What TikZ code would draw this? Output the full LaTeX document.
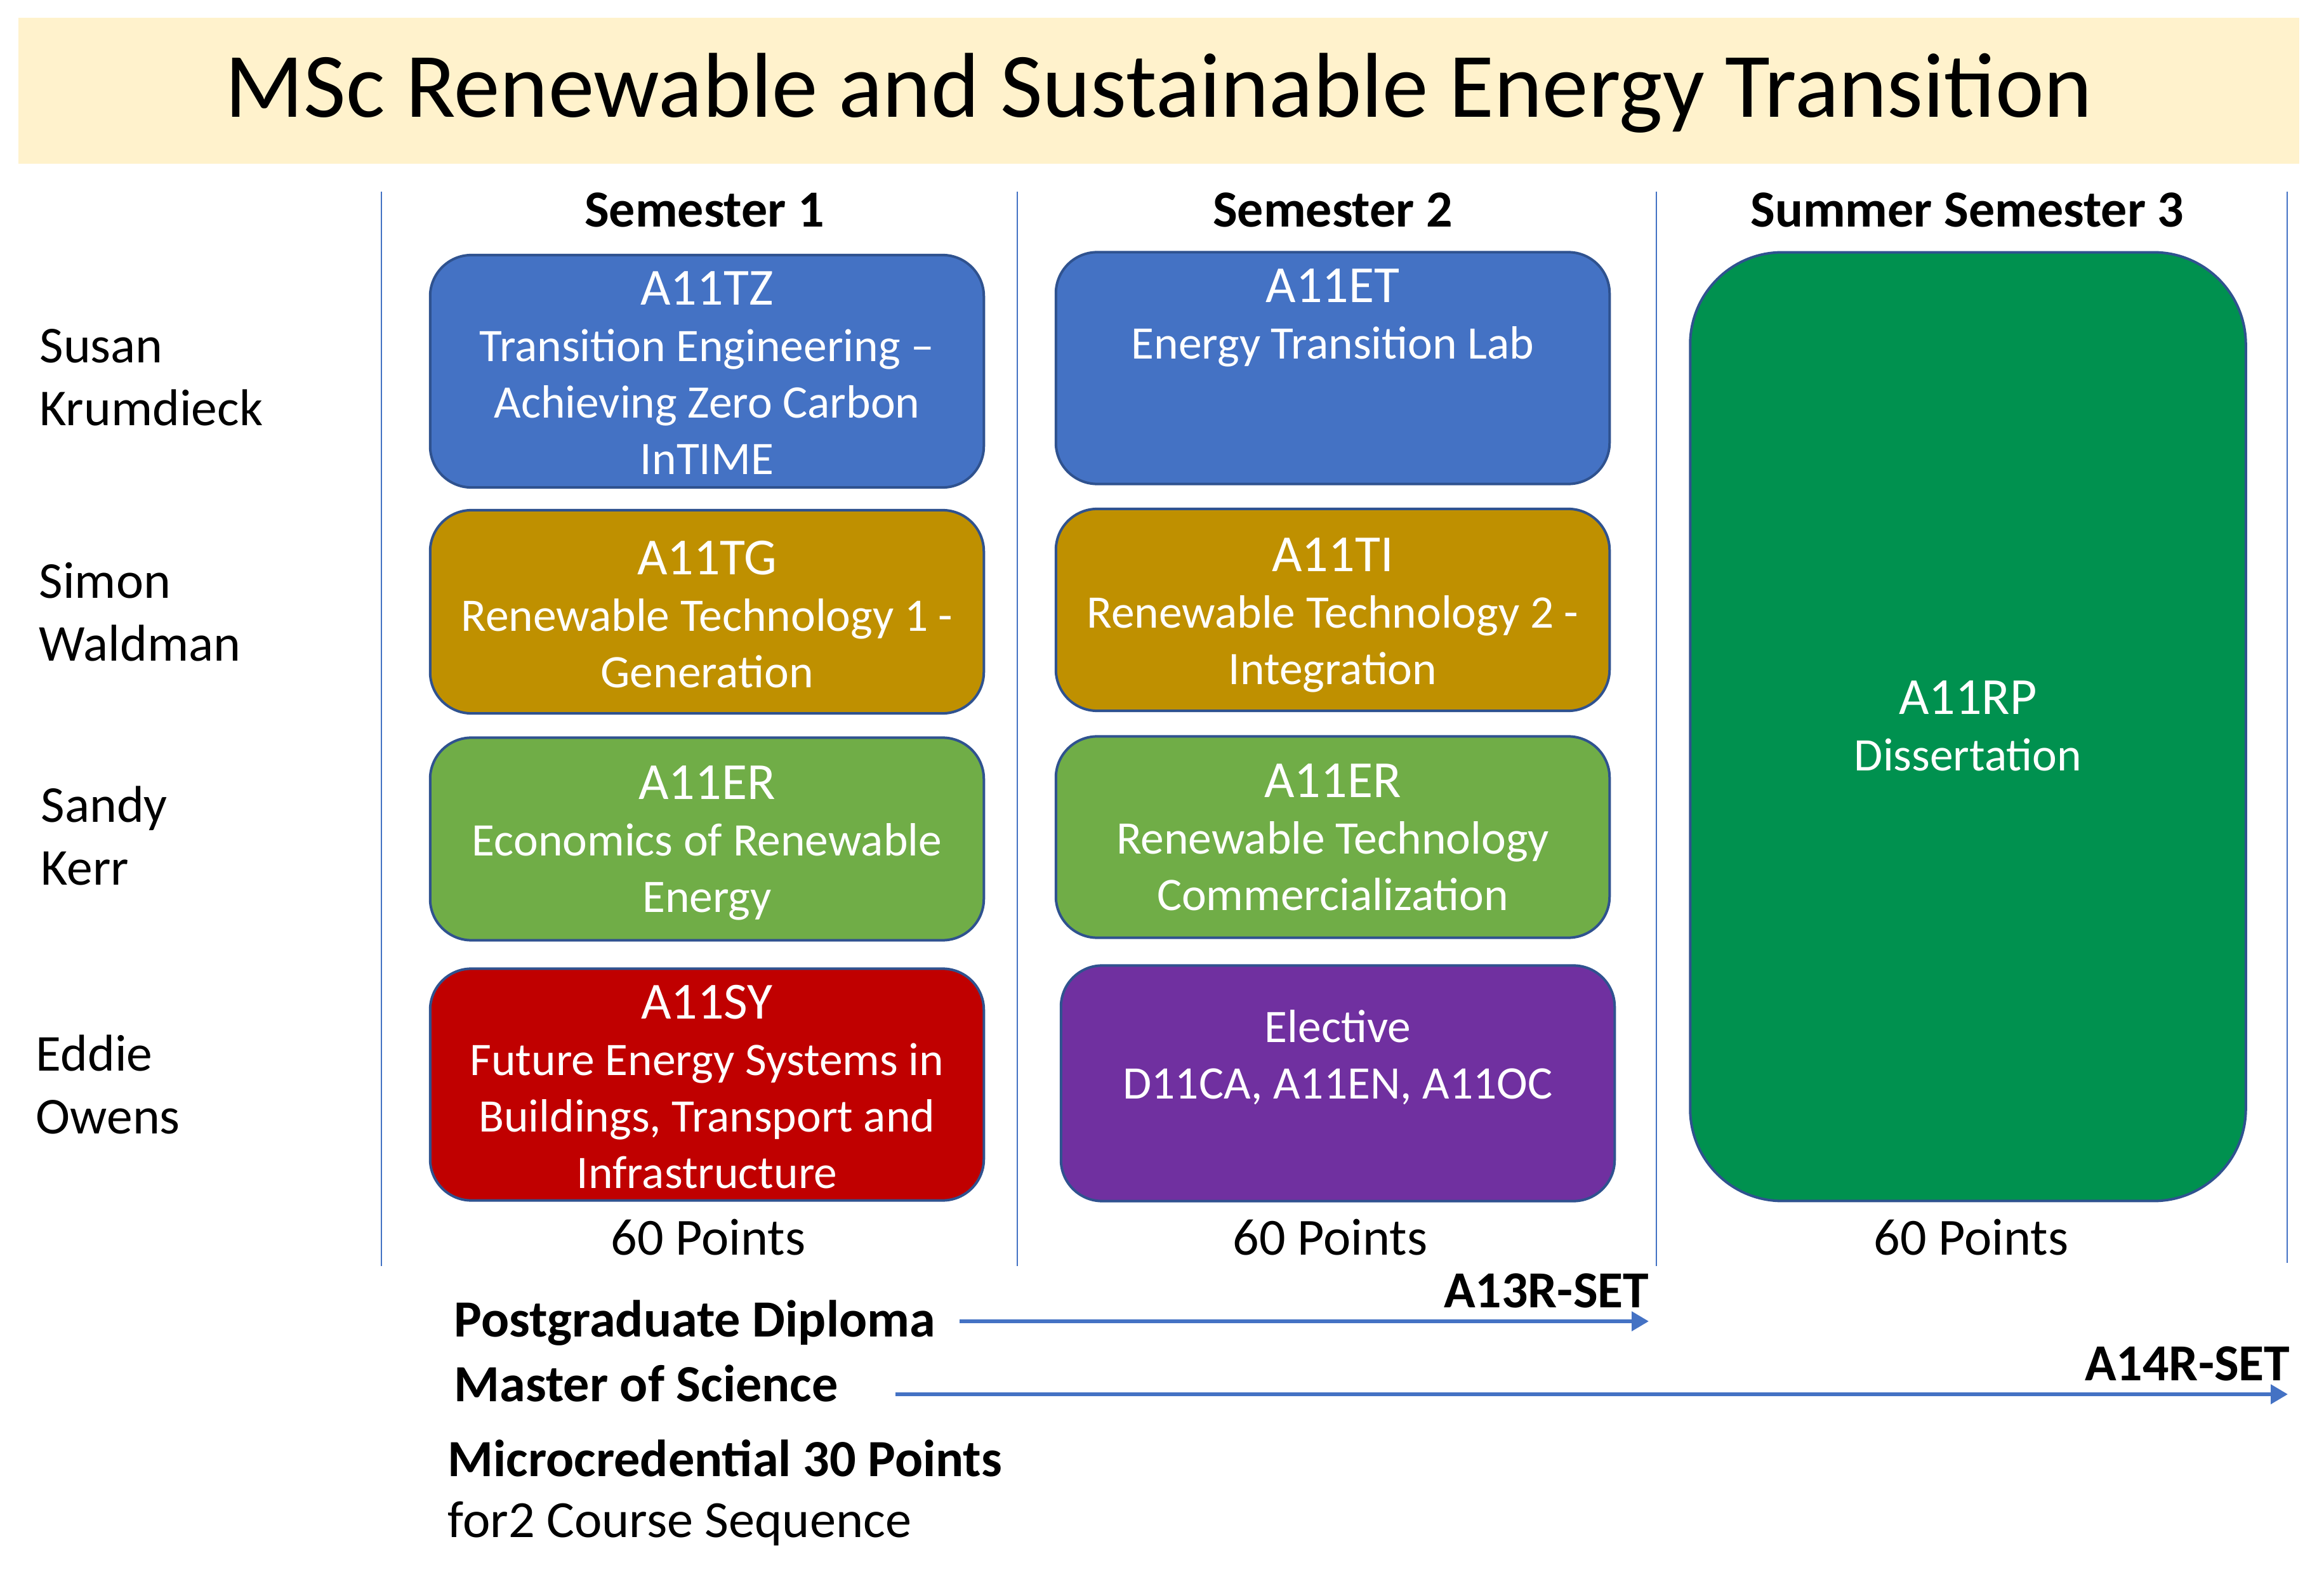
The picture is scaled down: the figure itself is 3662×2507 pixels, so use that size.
\documentclass[tikz,border=0pt]{standalone}
\usepackage{fontspec}
\setmainfont{Carlito}
\usetikzlibrary{arrows.meta}
\definecolor{cblue}{HTML}{4472C4}
\definecolor{cgold}{HTML}{BF9000}
\definecolor{cgreen}{HTML}{70AD47}
\definecolor{cred}{HTML}{C00000}
\definecolor{cpurple}{HTML}{7030A0}
\definecolor{cdgreen}{HTML}{00914F}
\definecolor{bordc}{HTML}{2F528F}
\definecolor{bannerc}{HTML}{FFF2CC}
\definecolor{linec}{HTML}{4472C4}
\newcommand{\tstrut}{\rule{0pt}{0.7cm}}
\newcommand{\mycode}{\fontsize{23.33pt}{25.32pt}\selectfont}
\newcommand{\mydesc}{\fontsize{20.9pt}{25.32pt}\selectfont}
\tikzset{
  course/.style={draw=bordc, line width=0.04cm, rounded corners=0.65cm, inner sep=0, minimum width=8.72cm},
  ctext/.style={text=white, align=center, inner sep=0, anchor=north, font=\mycode},
  person/.style={align=left, inner sep=0, anchor=north west, font=\fontsize{23.2pt}{28.17pt}\selectfont},
  hdr/.style={inner sep=0, anchor=base, font=\bfseries\fontsize{23.33pt}{28pt}\selectfont},
  pts/.style={inner sep=0, anchor=base, font=\fontsize{23.33pt}{28pt}\selectfont},
  bot/.style={inner sep=0, anchor=base west, font=\bfseries\fontsize{23.4pt}{28pt}\selectfont},
  prog/.style={inner sep=0, anchor=base east, font=\bfseries\fontsize{23.3pt}{28pt}\selectfont},
  vline/.style={draw=linec, line width=0.025cm},
  arr/.style={draw=linec, line width=0.06cm, -{Triangle[length=0.27cm, width=0.30cm]}}
}
\begin{document}
\begin{tikzpicture}[x=0.01cm, y=-0.01cm]
\useasboundingbox (0,0) rectangle (3662,2507);
% banner and title
\node[fill=bannerc, minimum width=35.92cm, minimum height=2.30cm, inner sep=0] (banner) at (1826,143) {};
\node[inner sep=0, anchor=base, font=\fontsize{41.26pt}{48pt}\selectfont] (title) at (1826,185) {MSc Renewable and Sustainable Energy Transition};
% column separators
\draw[vline] (601,302) -- (601,1995);
\draw[vline] (1603,302) -- (1603,1995);
\draw[vline] (2610,302) -- (2610,1995);
\draw[vline] (3604,302) -- (3604,1990);
% headers
\node[hdr] (h1) at (1110,358) {Semester 1};
\node[hdr] (h2) at (2100,358) {Semester 2};
\node[hdr] (h3) at (3100,358) {Summer Semester 3};
% people
\node[person] (p1) at (62,501) {\tstrut Susan\\Krumdieck};
\node[person] (p2) at (61,872) {\tstrut Simon\\Waldman};
\node[person] (p3) at (64,1225) {\tstrut Sandy\\Kerr};
\node[person] (p4) at (56,1617) {\tstrut Eddie\\Owens};
% semester 1 boxes
\node[course, fill=cblue, minimum height=3.66cm] (tz) at (1114,585) {};
\node[course, fill=cgold, minimum height=3.20cm] (tg) at (1114,964) {};
\node[course, fill=cgreen, minimum height=3.19cm] (er1) at (1114,1322) {};
\node[course, fill=cred, minimum height=3.65cm] (sy) at (1114,1709) {};
\node[ctext] (tzt) at (1114,410) {{\tstrut A11TZ}\\{\mydesc Transition Engineering –}\\{\mydesc Achieving Zero Carbon}\\{\mydesc InTIME}};
\node[ctext] (tgt) at (1114,835) {{\tstrut A11TG}\\{\mydesc Renewable Technology 1 -}\\{\mydesc Generation}};
\node[ctext] (er1t) at (1114,1189) {{\tstrut A11ER}\\{\mydesc Economics of Renewable}\\{\mydesc Energy}};
\node[ctext] (syt) at (1114,1535) {{\tstrut A11SY}\\{\mydesc Future Energy Systems in}\\{\mydesc Buildings, Transport and}\\{\mydesc Infrastructure}};
% semester 2 boxes
\node[course, fill=cblue, minimum height=3.65cm] (et) at (2100,580) {};
\node[course, fill=cgold, minimum height=3.18cm] (ti) at (2100,961) {};
\node[course, fill=cgreen, minimum height=3.17cm] (er2) at (2100,1319) {};
\node[course, fill=cpurple, minimum height=3.71cm] (el) at (2108,1707) {};
\node[ctext] (ett) at (2100,406) {{\tstrut A11ET}\\{\mydesc Energy Transition Lab}};
\node[ctext] (tit) at (2100,830) {{\tstrut A11TI}\\{\mydesc Renewable Technology 2 -}\\{\mydesc Integration}};
\node[ctext] (er2t) at (2100,1186) {{\tstrut A11ER}\\{\mydesc Renewable Technology}\\{\mydesc Commercialization}};
\node[ctext] (elt) at (2108,1572) {{\mydesc\tstrut Elective}\\{\mydesc D11CA, A11EN, A11OC}};
% summer box
\node[course, fill=cdgreen, rounded corners=1.45cm, minimum width=8.75cm, minimum height=14.94cm] (rp) at (3101,1145) {};
\node[ctext] (rpt) at (3101,1055) {{\tstrut A11RP}\\{\mydesc Dissertation}};
% points
\node[pts] (pt1) at (1116,1977) {60 Points};
\node[pts] (pt2) at (2096,1977) {60 Points};
\node[pts] (pt3) at (3106,1977) {60 Points};
% programmes
\node[bot] (pgd) at (715,2106) {Postgraduate Diploma};
\node[bot] (msc) at (715,2208) {Master of Science};
\node[bot] (mc) at (705,2326) {Microcredential 30 Points};
\node[inner sep=0, anchor=base west, font=\fontsize{23.4pt}{28pt}\selectfont] (seq) at (705,2422) {for2 Course Sequence};
\node[prog] (a13) at (2599,2060) {A13R-SET};
\node[prog] (a14) at (3609,2175) {A14R-SET};
\coordinate (pgdA) at (1512,2082);
\coordinate (pgdB) at (2598,2082);
\coordinate (mscA) at (1411,2197);
\coordinate (mscB) at (3605,2197);
\draw[arr] (pgdA) -- (pgdB);
\draw[arr] (mscA) -- (mscB);
\end{tikzpicture}
\end{document}
